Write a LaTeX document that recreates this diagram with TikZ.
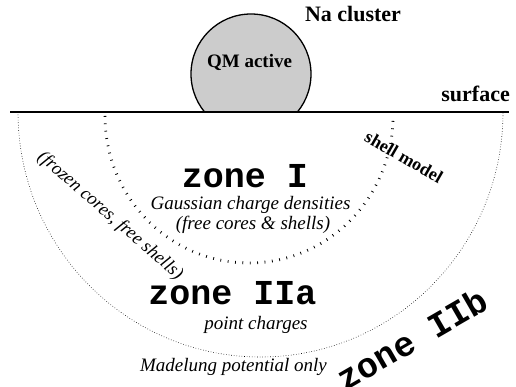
\documentclass[tikz,border=0pt]{standalone}
\usepackage{fontspec}
\setmainfont{Liberation Serif}
\setmonofont{Liberation Mono}
\begin{document}
\begin{tikzpicture}[x=1pt,y=1pt,
  lbl/.style={font=\bfseries\fontsize{22}{24}\selectfont, inner sep=0pt},
  desc/.style={font=\itshape\fontsize{19}{21}\selectfont, inner sep=0pt},
  zonelbl/.style={font=\ttfamily\bfseries\fontsize{35}{37}\selectfont, inner sep=0pt}]
\useasboundingbox (0,0) rectangle (516,387);
% cluster
\begin{scope}
\clip (0,275) rectangle (516,387);
\filldraw[fill=black!20, draw=black, line width=1.3pt] (251,313) circle[radius=60];
\end{scope}
\coordinate (sl) at (10,275);
\coordinate (sr) at (509,275);
\draw[line width=1.5pt] (sl) -- (sr);
% zone arcs
\coordinate (ia) at (105,271);
\draw[line width=2.8pt, dash pattern=on 0.8pt off 6.6pt] (ia) arc[start angle=180, end angle=360, x radius=144, y radius=147];
\coordinate (oa) at (18,275);
\draw[line width=0.6pt, dash pattern=on 0.6pt off 2pt] (oa) arc[start angle=180, end angle=360, x radius=242.5, y radius=245];
% labels
\node[lbl, anchor=base] (na) at (353,365) {Na cluster};
\node[lbl, font=\bfseries\fontsize{19}{21}\selectfont, anchor=base] (qm) at (249.5,319) {QM active};
\node[lbl, anchor=base east] (surf) at (510,285) {surface};
\node[lbl, font=\bfseries\fontsize{18}{20}\selectfont, rotate=-30] (sm) at (404,230) {shell model};
\node[zonelbl, anchor=base] (z1) at (245,199) {zone I};
\node[desc, anchor=base] (gau) at (250.5,177) {Gaussian charge densities};
\node[desc, anchor=base] (fcs) at (253,157) {(free cores \& shells)};
\node[desc, font=\itshape\fontsize{18.5}{20}\selectfont, rotate=-41] (frz) at (110,171) {(frozen cores, free shells)};
\node[zonelbl, anchor=base] (z2a) at (232.5,82) {zone IIa};
\node[desc, anchor=base] (pc) at (256,57) {point charges};
\node[desc, anchor=base] (mad) at (233.5,15) {Madelung potential only};
\node[zonelbl, rotate=30] (z2b) at (412,48) {zone IIb};
\end{tikzpicture}
\end{document}
